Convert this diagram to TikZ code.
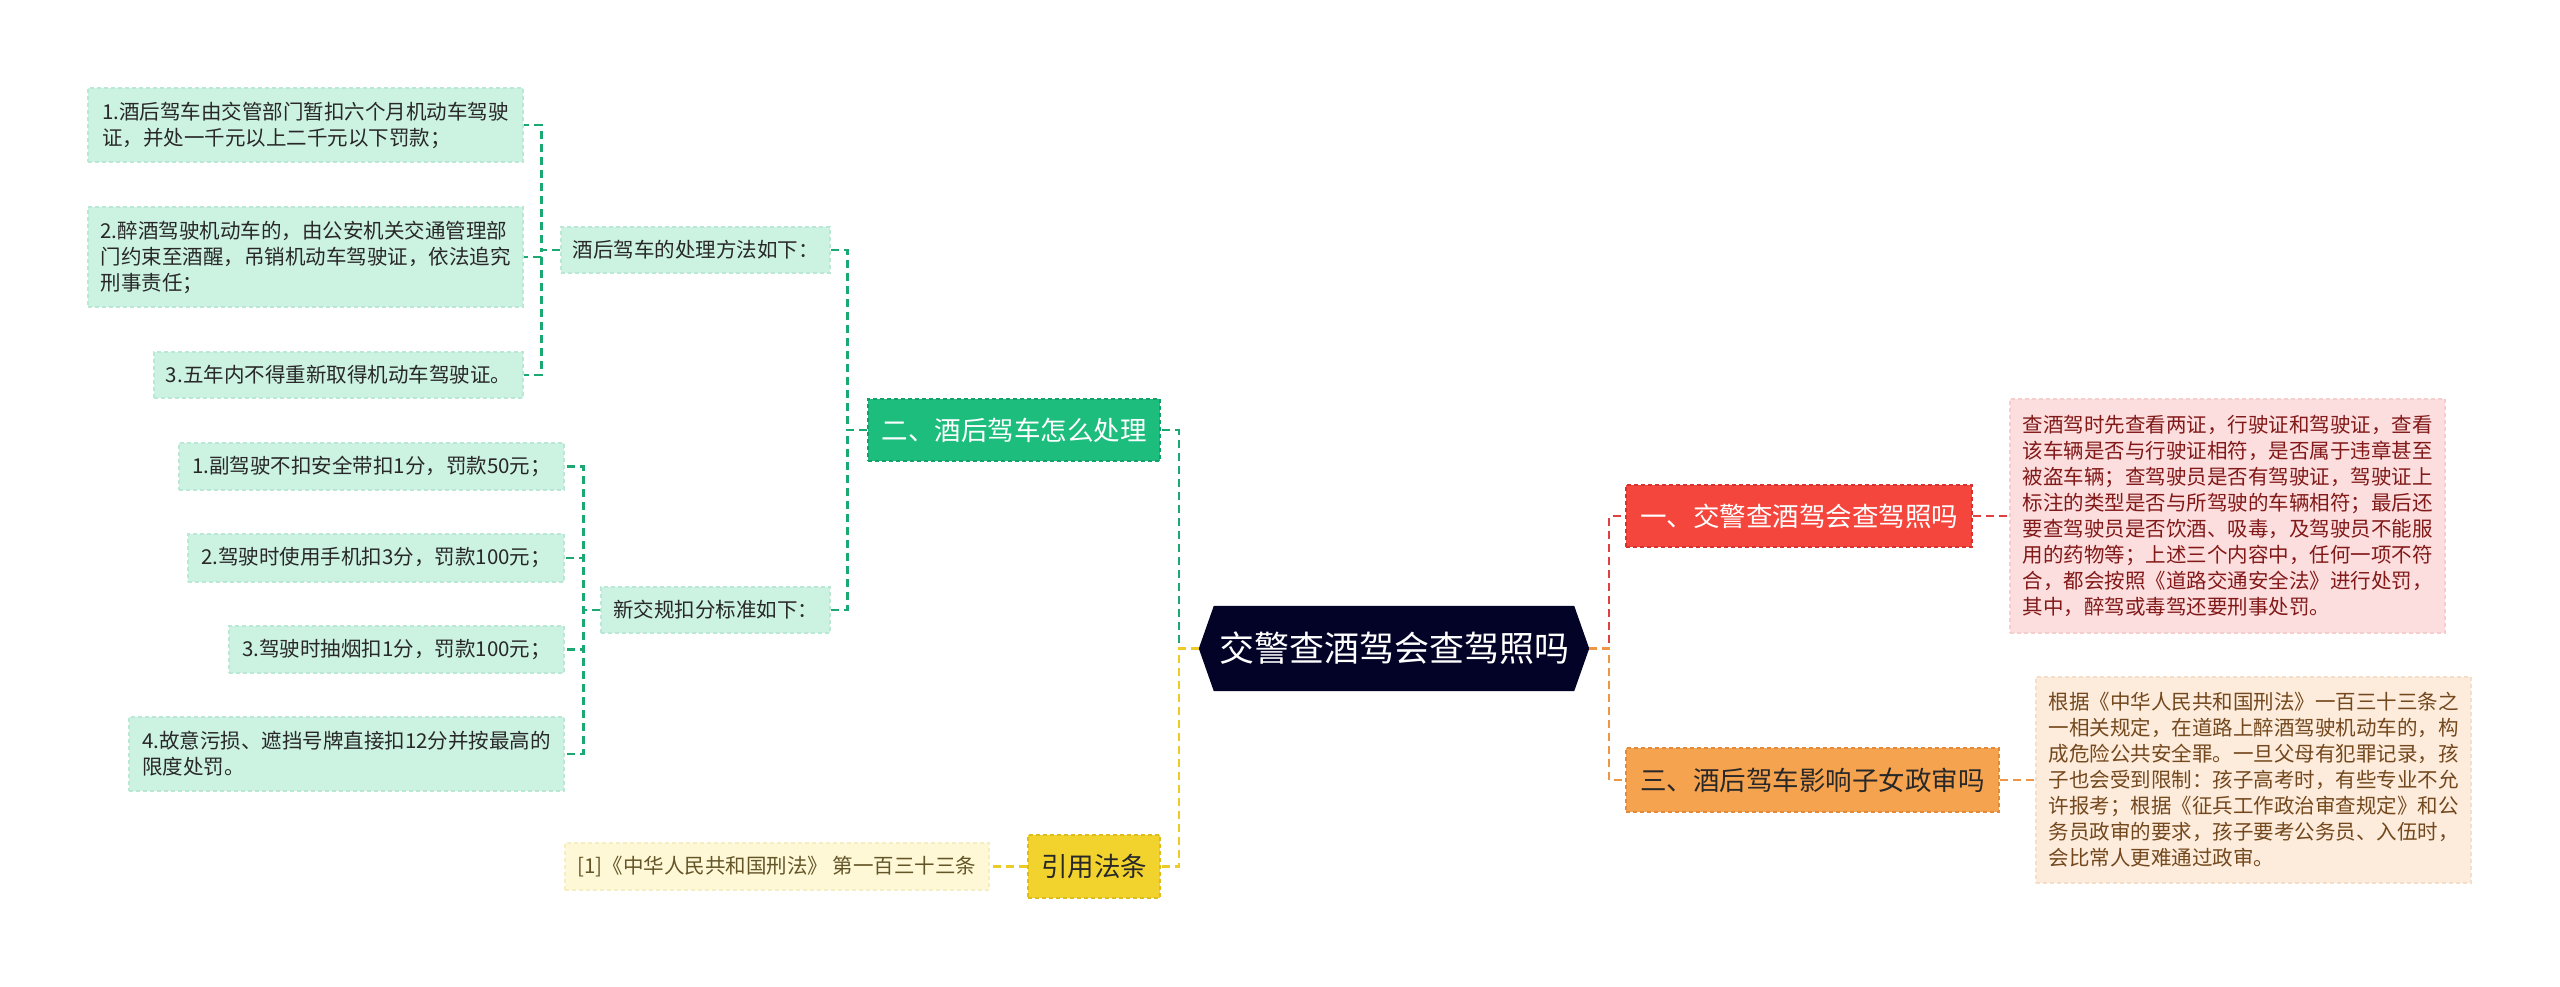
\documentclass[tikz,border=0pt]{standalone}
\usepackage{fontspec}
\setmainfont{Noto Sans CJK SC}
\usetikzlibrary{backgrounds}
\definecolor{mint}{RGB}{204,242,226}
\definecolor{mintedge}{RGB}{185,232,212}
\definecolor{gnode}{RGB}{29,189,125}
\definecolor{gedge}{RGB}{20,160,105}
\definecolor{gline}{RGB}{27,168,115}
\definecolor{rnode}{RGB}{245,70,62}
\definecolor{redge}{RGB}{215,50,45}
\definecolor{rline}{RGB}{224,64,64}
\definecolor{pink}{RGB}{253,222,222}
\definecolor{pinkedge}{RGB}{245,205,205}
\definecolor{pinktext}{RGB}{130,25,25}
\definecolor{onode}{RGB}{246,163,80}
\definecolor{oedge}{RGB}{225,140,60}
\definecolor{oline}{RGB}{236,150,70}
\definecolor{peach}{RGB}{253,236,219}
\definecolor{peachedge}{RGB}{245,222,200}
\definecolor{peachtext}{RGB}{115,72,30}
\definecolor{ynode}{RGB}{242,210,45}
\definecolor{yedge}{RGB}{222,188,25}
\definecolor{yline}{RGB}{236,202,40}
\definecolor{pale}{RGB}{254,248,214}
\definecolor{paleedge}{RGB}{246,238,195}
\definecolor{paletext}{RGB}{100,85,40}
\definecolor{navy}{RGB}{3,3,40}
\definecolor{darktext}{RGB}{40,40,40}
\newcommand{\fsmall}{\fontsize{20.5}{26}\selectfont}
\newcommand{\fmid}{\fontsize{26.5}{32}\selectfont}
\newcommand{\fbig}{\fontsize{35}{42}\selectfont}
\tikzset{
  boxbase/.style={rectangle, line width=1.2pt, dash pattern=on 4pt off 3pt, inner xsep=11pt, inner ysep=0pt, align=left},
  leaf/.style={boxbase, fill=mint, draw=mintedge, font=\fsmall, text=darktext},
  pinkleaf/.style={boxbase, fill=pink, draw=pinkedge, font=\fsmall, text=pinktext},
  peachleaf/.style={boxbase, fill=peach, draw=peachedge, font=\fsmall, text=peachtext},
  paleleaf/.style={boxbase, fill=pale, draw=paleedge, font=\fsmall, text=paletext},
  topic/.style={boxbase, font=\fmid},
  gconn/.style={draw=gline, line width=2.5pt, dash pattern=on 8pt off 5pt},
  rconn/.style={draw=rline, line width=2.5pt, dash pattern=on 8pt off 5pt},
  oconn/.style={draw=oline, line width=2.5pt, dash pattern=on 8pt off 5pt},
  yconn/.style={draw=yline, line width=2.5pt, dash pattern=on 8pt off 5pt},
}
\begin{document}
\begin{tikzpicture}[x=1pt,y=-1pt]
\useasboundingbox (0,0) rectangle (2560,986);
% left, level 3
\node[leaf, minimum width=435pt, minimum height=74pt] (b1) at (305.5,125) {1.酒后驾车由交管部门暂扣六个月机动车驾驶\\证，并处一千元以上二千元以下罚款；};
\node[leaf, minimum width=435pt, minimum height=100pt] (b2) at (305.5,257) {2.醉酒驾驶机动车的，由公安机关交通管理部\\门约束至酒醒，吊销机动车驾驶证，依法追究\\刑事责任；};
\node[leaf, minimum width=369pt, minimum height=46pt] (b3) at (338.5,375) {3.五年内不得重新取得机动车驾驶证。};
\node[leaf, minimum width=385pt, minimum height=47pt] (ba) at (371.5,466.5) {1.副驾驶不扣安全带扣1分，罚款50元；};
\node[leaf, minimum width=376pt, minimum height=48pt] (bb) at (376,558) {2.驾驶时使用手机扣3分，罚款100元；};
\node[leaf, minimum width=335pt, minimum height=47pt] (bc) at (396.5,649.5) {3.驾驶时抽烟扣1分，罚款100元；};
\node[leaf, minimum width=435pt, minimum height=74pt] (bd) at (346.5,754) {4.故意污损、遮挡号牌直接扣12分并按最高的\\限度处罚。};
% left, level 2
\node[leaf, minimum width=269pt, minimum height=46pt] (bA) at (695.5,250) {酒后驾车的处理方法如下：};
\node[leaf, minimum width=229pt, minimum height=46pt] (bB) at (715.5,610) {新交规扣分标准如下：};
% topics
\node[topic, fill=gnode, draw=gedge, text=white, minimum width=292pt, minimum height=62pt] (n2) at (1014,430) {二、酒后驾车怎么处理};
\node[topic, fill=ynode, draw=yedge, text=darktext, minimum width=132pt, minimum height=63pt, inner xsep=4pt] (ny) at (1094,866.5) {引用法条};
\node[paleleaf, minimum width=424pt, minimum height=47pt] (ref) at (777,866.5) {[1]《中华人民共和国刑法》 第一百三十三条};
\node[topic, fill=rnode, draw=redge, text=white, minimum width=346pt, minimum height=62pt] (n1) at (1799,516) {一、交警查酒驾会查驾照吗};
\node[topic, fill=onode, draw=oedge, text=darktext, minimum width=373pt, minimum height=64pt] (n3) at (1812.5,780) {三、酒后驾车影响子女政审吗};
\node[pinkleaf, minimum width=435pt, minimum height=234pt] (pk) at (2227.5,516) {查酒驾时先查看两证，行驶证和驾驶证，查看\\该车辆是否与行驶证相符，是否属于违章甚至\\被盗车辆；查驾驶员是否有驾驶证，驾驶证上\\标注的类型是否与所驾驶的车辆相符；最后还\\要查驾驶员是否饮酒、吸毒，及驾驶员不能服\\用的药物等；上述三个内容中，任何一项不符\\合，都会按照《道路交通安全法》进行处罚，\\其中，醉驾或毒驾还要刑事处罚。};
\node[peachleaf, minimum width=435pt, minimum height=206pt] (pc) at (2253.5,780) {根据《中华人民共和国刑法》一百三十三条之\\一相关规定，在道路上醉酒驾驶机动车的，构\\成危险公共安全罪。一旦父母有犯罪记录，孩\\子也会受到限制：孩子高考时，有些专业不允\\许报考；根据《征兵工作政治审查规定》和公\\务员政审的要求，孩子要考公务员、入伍时，\\会比常人更难通过政审。};
% center
\node[text=white, font=\fbig, minimum width=390pt, minimum height=85pt, inner sep=0pt] (c) at (1394,648.5) {交警查酒驾会查驾照吗};
\begin{scope}[on background layer]
\fill[navy] (c.west) -- ([xshift=15pt]c.north west) -- ([xshift=-15pt]c.north east) -- (c.east) -- ([xshift=-15pt]c.south east) -- ([xshift=15pt]c.south west) -- cycle;
\end{scope}
% connectors
\draw[gconn] (bA.west) -- ++(-19,0) |- (b1.east);
\draw[gconn] (bA.west) -- ++(-19,0) |- (b2.east);
\draw[gconn] (bA.west) -- ++(-19,0) |- (b3.east);
\draw[gconn] (bB.west) -- ++(-17,0) |- (ba.east);
\draw[gconn] (bB.west) -- ++(-17,0) |- (bb.east);
\draw[gconn] (bB.west) -- ++(-17,0) |- (bc.east);
\draw[gconn] (bB.west) -- ++(-17,0) |- (bd.east);
\draw[gconn] (n2.west) -- ++(-20,0) |- (bA.east);
\draw[gconn] (n2.west) -- ++(-20,0) |- (bB.east);
\draw[gconn] (c.west) -- ++(-20,0) |- (n2.east);
\draw[yconn] (c.west) -- ++(-20,0) |- (ny.east);
\draw[yconn] (ny.west) -- (ref.east);
\draw[rconn] (c.east) -- ++(20,0) |- (n1.west);
\draw[oconn] (c.east) -- ++(20,0) |- (n3.west);
\draw[rconn] (n1.east) -- (pk.west);
\draw[oconn] (n3.east) -- (pc.west);
\end{tikzpicture}
\end{document}
